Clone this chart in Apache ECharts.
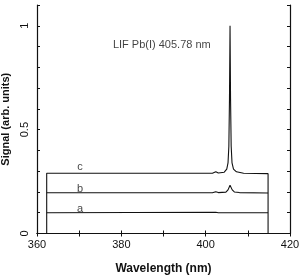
<!DOCTYPE html>
<html>
<head>
<meta charset="utf-8">
<script src="https://cdn.jsdelivr.net/npm/echarts@6/dist/echarts.min.js"></script>
<style>
  html, body { margin: 0; padding: 0; background: #fff; }
  #chart { width: 300px; height: 276px; }
</style>
</head>
<body>
<div id="chart"></div>
<script>
// spectra, [wavelength nm, signal]
var curveC = [[362.3,0],[362.3,0.29],[380,0.29],[395,0.29],[401.6,0.29],[402.4,0.297],[403.0,0.291],
  [404.4,0.295],[405.0,0.31],[405.3,0.34],[405.5,0.42],[405.65,0.65],[405.78,1.0],[405.9,0.65],
  [406.05,0.42],[406.25,0.34],[406.6,0.31],[407.3,0.297],[409,0.29],[414.8,0.288],[414.8,0]];
var curveB = [[362.3,0.196],[380,0.196],[401.6,0.196],[402.4,0.201],[403,0.197],[404.8,0.199],
  [405.3,0.21],[405.78,0.232],[406.3,0.21],[406.8,0.2],[408,0.197],[414.8,0.195]];
var curveA = [[362.3,0.1],[402.4,0.102],[403,0.1],[405.4,0.1],[405.78,0.107],[406.2,0.1],[414.8,0.1]];
// text labels placed in data coords
var curveLabels = [[370.2,0.318,'c'],[370.2,0.216,'b'],[370.2,0.12,'a']];
var peakLabel = [[378.0,0.909,'LIF Pb(I) 405.78 nm']];
var xMajor = [360, 380, 400, 420];
var yMajor = [0, 0.5, 1];

var font = 'Liberation Sans, Arial, sans-serif';
var chart = echarts.init(document.getElementById('chart'));

function lineSeries(d) {
  return {
    type: 'line', data: d, showSymbol: false, animation: false,
    lineStyle: { color: '#111', width: 1.1 }
  };
}
function isMajor(list, v) {
  return list.some(function (m) { return Math.abs(m - v) < 1e-6; });
}

var option = {
  animation: false,
  grid: { left: 37, top: 5, width: 253, height: 228.5, show: false, outerBoundsMode: 'none', containLabel: false },
  xAxis: [{
    type: 'value', min: 360, max: 420, interval: 10,
    name: 'Wavelength (nm)', nameLocation: 'middle', nameGap: 29,
    nameTextStyle: { fontFamily: font, fontSize: 12, color: '#111', fontWeight: 'bold' },
    axisLine: { lineStyle: { color: '#111', width: 1.2 } },
    axisTick: { inside: true, length: 3, lineStyle: { color: '#111' } },
    axisLabel: { fontFamily: font, fontSize: 11, color: '#111', margin: 6,
      formatter: function (v) { return isMajor(xMajor, v) ? String(v) : ''; } },
    splitLine: { show: false }
  }, {
    type: 'value', position: 'top', min: 360, max: 420, interval: 10,
    axisLine: { lineStyle: { color: '#111', width: 1.2 } },
    axisTick: { inside: true, length: 3, lineStyle: { color: '#111' } },
    axisLabel: { show: false }, splitLine: { show: false }
  }],
  yAxis: [{
    type: 'value', min: 0, max: 1.1, interval: 0.1,
    name: 'Signal (arb. units)', nameLocation: 'middle', nameGap: 21,
    nameTextStyle: { fontFamily: font, fontSize: 11, color: '#111', fontWeight: 'bold' },
    axisLine: { lineStyle: { color: '#111', width: 1.2 } },
    axisTick: { inside: true, length: 3, lineStyle: { color: '#111' } },
    axisLabel: { fontFamily: font, fontSize: 11, color: '#111', rotate: 90, margin: 7,
      formatter: function (v) { return isMajor(yMajor, v) ? String(Math.round(v * 10) / 10) : ''; } },
    splitLine: { show: false }
  }, {
    type: 'value', position: 'right', min: 0, max: 1.1, interval: 0.1,
    axisLine: { lineStyle: { color: '#111', width: 1.2 } },
    axisTick: { inside: true, length: 3, lineStyle: { color: '#111' } },
    axisLabel: { show: false }, splitLine: { show: false }
  }],
  series: [
    lineSeries(curveA), lineSeries(curveB), lineSeries(curveC),
    {
      type: 'scatter', symbolSize: 0, data: curveLabels,
      label: { show: true, position: 'inside', formatter: function (p) { return p.data[2]; },
        fontFamily: font, fontSize: 11, color: '#111' }
    },
    {
      type: 'scatter', symbolSize: 0, data: peakLabel,
      label: { show: true, position: 'right', distance: 0, formatter: function (p) { return p.data[2]; },
        fontFamily: font, fontSize: 11, color: '#111' }
    }
  ]
};
chart.setOption(option);
</script>
</body>
</html>
